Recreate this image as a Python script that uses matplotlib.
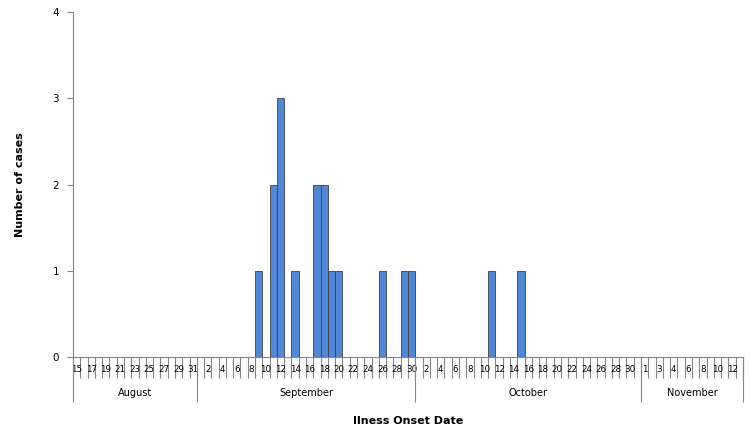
import matplotlib
matplotlib.use("Agg")
from matplotlib import pyplot as plt

# categories: one per day shown on the axis
aug_days = list(range(15, 32))
sep_days = list(range(1, 31))
oct_days = list(range(1, 32))
nov_days = [1, 2, 3, 3, 4, 5, 6, 7, 8, 9, 10, 11, 12, 13]  # labels read 1 3 4 6 8 10 12
months = ["August", "September", "October", "November"]

# cases by onset date
sep_cases = {9: 1, 11: 2, 12: 3, 14: 1, 17: 2, 18: 2, 19: 1, 20: 1, 26: 1, 29: 1, 30: 1}
oct_cases = {11: 1, 15: 1}

days = aug_days + sep_days + oct_days + nov_days
cases = ([0] * len(aug_days)
         + [sep_cases.get(d, 0) for d in sep_days]
         + [oct_cases.get(d, 0) for d in oct_days]
         + [0] * len(nov_days))
month_len = [len(aug_days), len(sep_days), len(oct_days), len(nov_days)]

grey = "#868686"
fig = plt.figure(figsize=(7.5, 4.3), dpi=100)
ax = fig.add_axes([0.0973, 0.1698, 0.8934, 0.8022])

x = list(range(len(days)))
ax.bar(x, cases, width=1.0, color="#4f88d6", edgecolor="#404040", linewidth=0.6, zorder=3)

ax.set_xlim(-0.5, len(days) - 0.5)
ax.set_ylim(0, 4)
ax.set_yticks([0, 1, 2, 3, 4])
ax.tick_params(axis="y", length=4, color=grey, labelsize=7.5, pad=6)

# category boundaries as ticks, labels every 2nd day
ax.set_xticks([i - 0.5 for i in range(len(days) + 1)])
ax.set_xticklabels([])
ax.tick_params(axis="x", which="major", direction="out", length=15, color=grey, width=0.8)
ax.set_xticks(x[::2], minor=True)
ax.set_xticklabels([str(d) for d in days[::2]], minor=True)
ax.tick_params(axis="x", which="minor", length=0, labelsize=6.3, pad=6)

for s in ["top", "right"]:
    ax.spines[s].set_visible(False)
for s in ["left", "bottom"]:
    ax.spines[s].set_color(grey)

# month separators and names
tr = ax.get_xaxis_transform()
start = -0.5
bounds = [start]
for n in month_len:
    start += n
    bounds.append(start)
ax.vlines(bounds, -0.13, 0, transform=tr, colors=grey, linewidth=0.8, clip_on=False)
for i, m in enumerate(months):
    ax.text((bounds[i] + bounds[i + 1]) / 2, -0.105, m, transform=tr,
            ha="center", va="center", fontsize=7)

ax.set_ylabel("Number of cases", fontsize=8, fontweight="bold", labelpad=20)
ax.text(0.5, -0.185, "Ilness Onset Date", transform=ax.transAxes, ha="center",
        va="center", fontsize=8, fontweight="bold")

fig.savefig("out.png", dpi=100)
